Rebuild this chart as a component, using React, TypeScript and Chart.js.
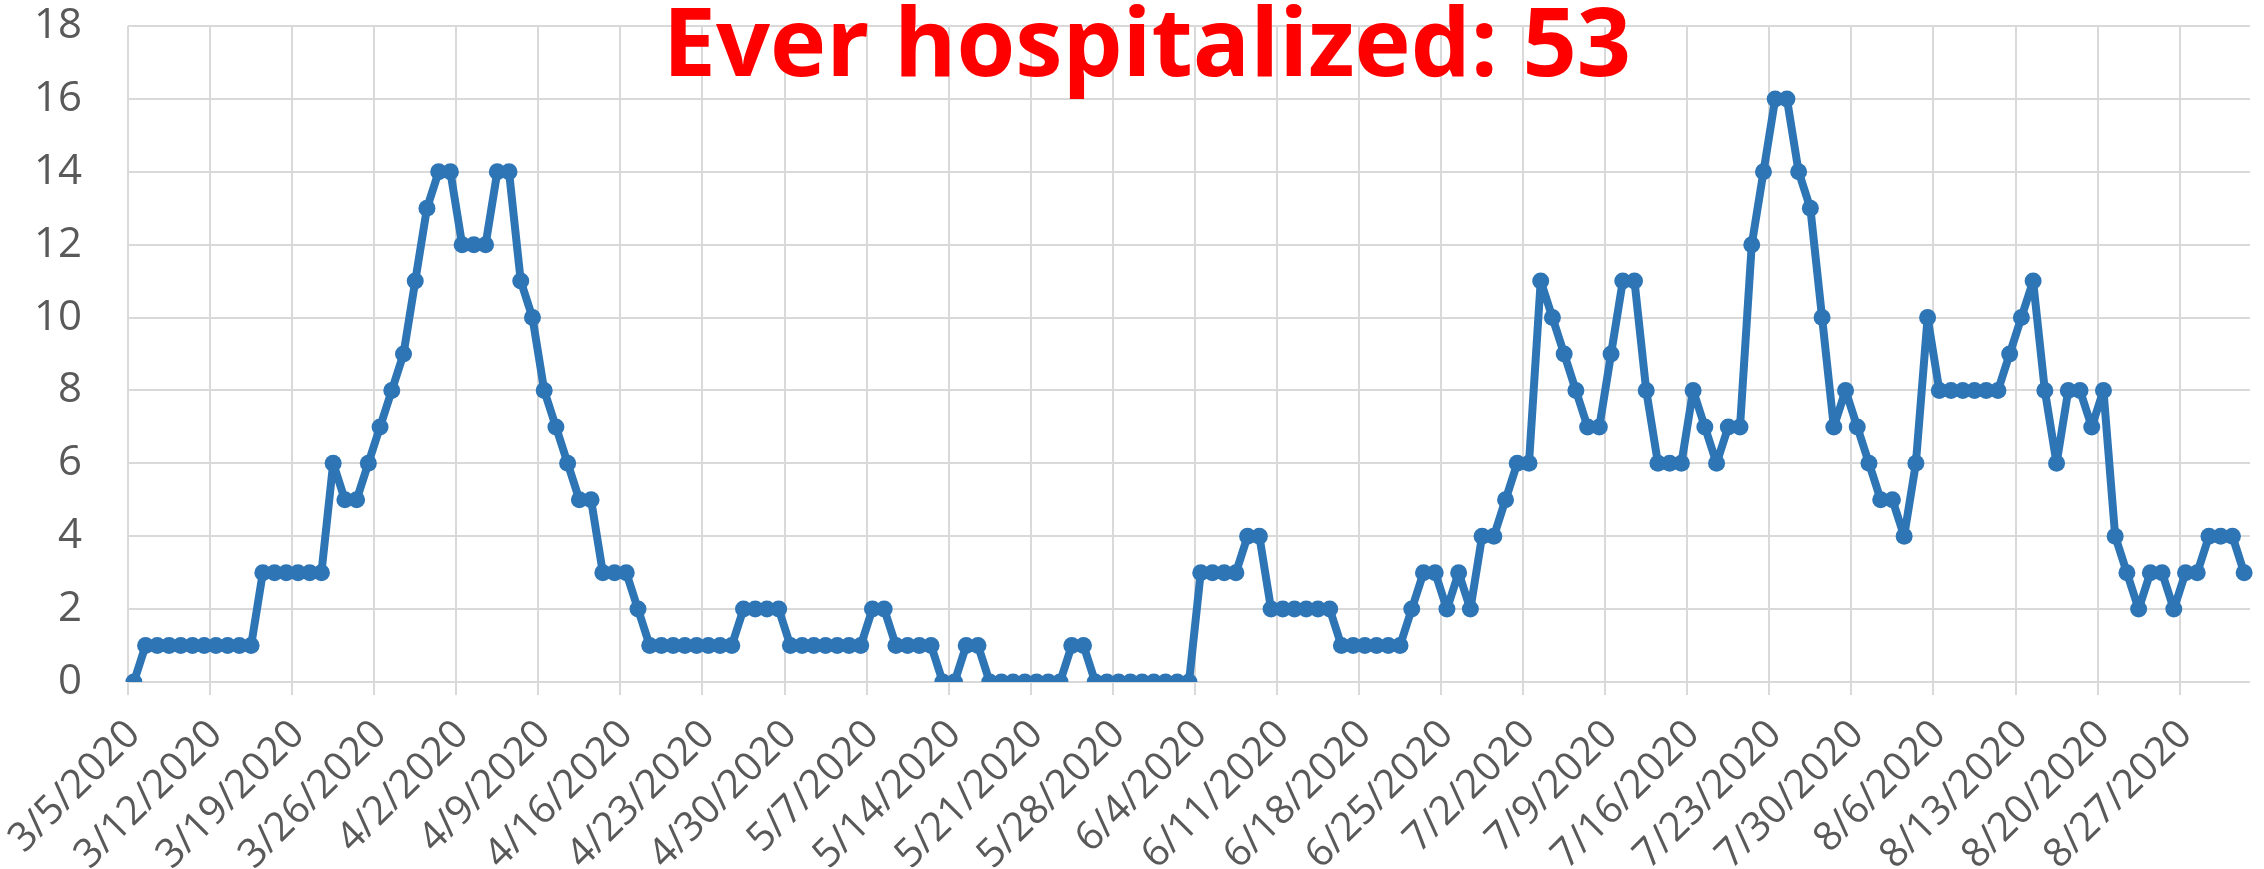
import React, { useEffect, useRef } from 'react';
import { Chart, registerables } from 'chart.js';

Chart.register(...registerables);

// Daily categories: 3/5/2020 .. 9/1/2020
const startYear = 2020;
const startMonthIndex = 2; // March
const startDay = 5;
const dayCount = 181;
const categories: string[] = [];
for (let i = 0; i < dayCount; i++) {
  const d = new Date(startYear, startMonthIndex, startDay + i);
  categories.push(`${d.getMonth() + 1}/${d.getDate()}/${d.getFullYear()}`);
}

// Daily hospitalized counts
const marchValues = [0, 1, 1, 1, 1, 1, 1, 1, 1, 1, 1, 3, 3, 3, 3, 3, 3, 6, 5, 5, 6, 7, 8, 9, 11, 13, 14];
const aprilValues = [14, 12, 12, 12, 14, 14, 11, 10, 8, 7, 6, 5, 5, 3, 3, 3, 2, 1, 1, 1, 1, 1, 1, 1, 1, 2, 2, 2, 2, 1];
const mayValues = [1, 1, 1, 1, 1, 1, 2, 2, 1, 1, 1, 1, 0, 0, 1, 1, 0, 0, 0, 0, 0, 0, 0, 1, 1, 0, 0, 0, 0, 0, 0];
const juneValues = [0, 0, 0, 3, 3, 3, 3, 4, 4, 2, 2, 2, 2, 2, 2, 1, 1, 1, 1, 1, 1, 2, 3, 3, 2, 3, 2, 4, 4, 5];
const julyValues = [6, 6, 11, 10, 9, 8, 7, 7, 9, 11, 11, 8, 6, 6, 6, 8, 7, 6, 7, 7, 12, 14, 16, 16, 14, 13, 10, 7, 8, 7, 6];
const augustValues = [5, 5, 4, 6, 10, 8, 8, 8, 8, 8, 8, 9, 10, 11, 8, 6, 8, 8, 7, 8, 4, 3, 2, 3, 3, 2, 3, 3, 4, 4, 4];
const septemberValues = [3];
const values: number[] = [
  ...marchValues,
  ...aprilValues,
  ...mayValues,
  ...juneValues,
  ...julyValues,
  ...augustValues,
  ...septemberValues,
];

const yMin = 0;
const yMax = 18;
const yStep = 2;
const labelEvery = 7;
const titleText = 'Ever hospitalized: 53';

const W = 2264;
const H = 869;

const titlePlugin = {
  id: 'bigTitle',
  afterDraw(chart: any) {
    const ctx = chart.ctx as CanvasRenderingContext2D;
    ctx.save();
    ctx.font = 'bold 95px "Open Sans"';
    ctx.fillStyle = '#FF0000';
    ctx.textAlign = 'center';
    ctx.textBaseline = 'alphabetic';
    ctx.fillText(titleText, 1147, 76);
    ctx.restore();
  },
};

export default function App() {
  const ref = useRef<HTMLCanvasElement | null>(null);

  useEffect(() => {
    if (!ref.current) return;
    const gridColor = '#d9d9d9';
    const chart = new Chart(ref.current, {
      type: 'line',
      data: {
        labels: categories,
        datasets: [
          {
            data: values,
            borderColor: '#2E75B6',
            backgroundColor: '#2E75B6',
            borderWidth: 8,
            borderJoinStyle: 'round',
            borderCapStyle: 'round',
            pointRadius: 8.5,
            pointHoverRadius: 8.5,
            pointBorderWidth: 0,
            pointBackgroundColor: '#2E75B6',
            tension: 0,
          },
        ],
      },
      options: {
        animation: false,
        responsive: false,
        devicePixelRatio: 1,
        layout: { padding: { top: 26, right: 14, bottom: 0, left: 0 } },
        plugins: {
          legend: { display: false },
          tooltip: { enabled: false },
          title: { display: false },
        },
        scales: {
          x: {
            type: 'category',
            offset: true,
            border: { display: false },
            grid: {
              offset: true,
              lineWidth: 2,
              tickLength: 13,
              drawTicks: true,
              color: (c: any) => (c.index !== undefined && c.index % labelEvery === 0 ? gridColor : 'rgba(0,0,0,0)'),
            },
            ticks: {
              autoSkip: false,
              maxRotation: 45,
              minRotation: 45,
              color: '#595959',
              padding: 16,
              font: { family: 'Open Sans', size: 40 },
              callback: (_v: any, i: number) => (i % labelEvery === 0 ? categories[i] : ''),
            },
            afterFit: (s: any) => {
              s.height = 187;
              s.paddingLeft = 0;
              s.paddingRight = 0;
            },
          },
          y: {
            min: yMin,
            max: yMax,
            border: { display: false },
            grid: { color: gridColor, lineWidth: 2, drawTicks: false },
            ticks: {
              stepSize: yStep,
              color: '#595959',
              padding: 46,
              font: { family: 'Open Sans', size: 42 },
            },
            afterFit: (s: any) => {
              s.width = 128;
              s.paddingTop = 0;
              s.paddingBottom = 0;
            },
          },
        },
      },
      plugins: [titlePlugin],
    });
    return () => chart.destroy();
  }, []);

  return (
    <div style={{ position: 'absolute', left: 0, top: 0, width: W, height: H, background: '#fff' }}>
      <canvas ref={ref} width={W} height={H} style={{ width: W, height: H, display: 'block' }} />
    </div>
  );
}
